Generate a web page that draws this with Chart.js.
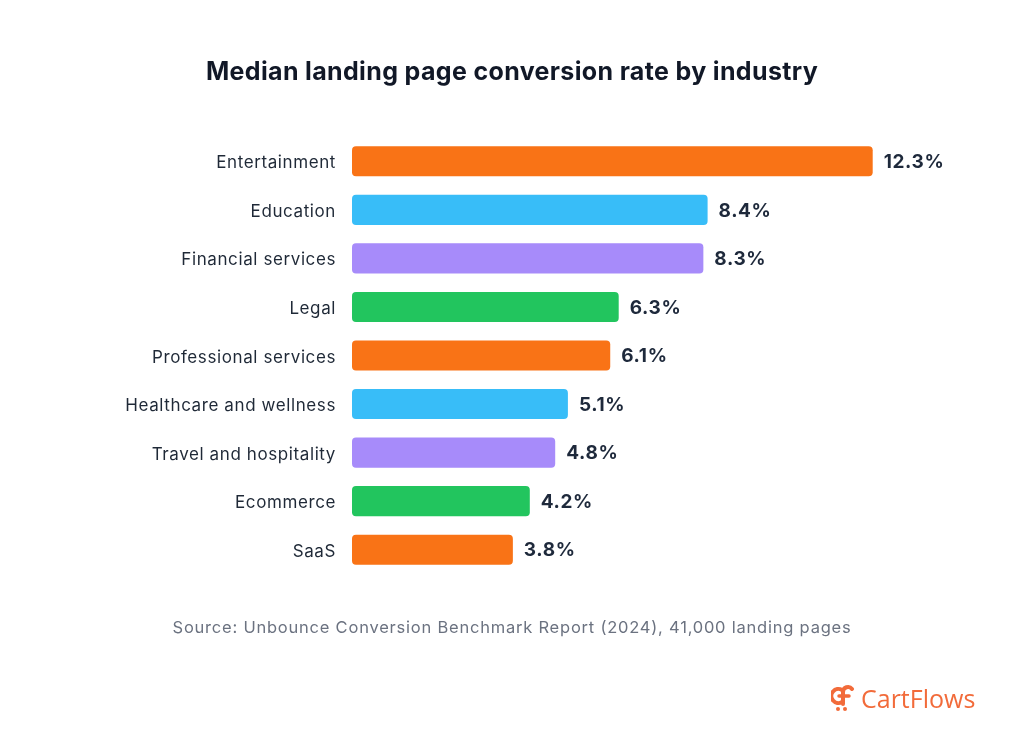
<!DOCTYPE html>
<html>
<head>
<meta charset="utf-8">
<script src="https://cdn.jsdelivr.net/npm/chart.js@4.4.1/dist/chart.umd.min.js"></script>
<style>
  html, body { margin: 0; padding: 0; background: #fff; }
  #wrap { position: relative; width: 1024px; height: 737px; font-family: Inter, "Noto Sans", sans-serif; }
  #chart { position: absolute; left: 0; top: 0; }
  .title { position: absolute; top: 56px; left: 0; width: 1024px; text-align: center; font-weight: 700; font-size: 25px; letter-spacing: 0.35px; color: #111827; }
  .source { position: absolute; top: 617px; left: 0; width: 1024px; text-align: center; font-size: 16.5px; letter-spacing: 0.78px; color: #6b7280; }
  .logo { position: absolute; left: 831px; top: 681px; display: flex; align-items: center; color: #f26b3a; font-size: 25px; font-family: "Open Sans", Inter, sans-serif; }
  .logo svg { margin-right: 6px; }
</style>
</head>
<body>
<div id="wrap">
  <canvas id="chart" width="1024" height="737"></canvas>
  <div class="title">Median landing page conversion rate by industry</div>
  <div class="source">Source: Unbounce Conversion Benchmark Report (2024), 41,000 landing pages</div>
  <div class="logo">
    <svg width="24" height="28" viewBox="0 0 24 28">
      <path d="M11 6 A7 7 0 1 0 11 18" fill="none" stroke="#f26b3a" stroke-width="4" stroke-linecap="round"/>
      <path d="M12 20 V8 A5 5 0 0 1 21 5" fill="none" stroke="#f26b3a" stroke-width="4" stroke-linecap="round"/>
      <path d="M8 12 H18" stroke="#f26b3a" stroke-width="3.5" stroke-linecap="round"/>
      <circle cx="7" cy="25" r="2" fill="#f26b3a"/>
      <circle cx="14" cy="25" r="2" fill="#f26b3a"/>
    </svg>
    <span>CartFlows</span>
  </div>
</div>
<script>
const industries = [
  "Entertainment", "Education", "Financial services", "Legal",
  "Professional services", "Healthcare and wellness", "Travel and hospitality",
  "Ecommerce", "SaaS"
];
const conversionRates = [12.3, 8.4, 8.3, 6.3, 6.1, 5.1, 4.8, 4.2, 3.8];
const barColors = [
  "#f97316", "#38bdf8", "#a78bfa", "#22c55e",
  "#f97316", "#38bdf8", "#a78bfa", "#22c55e", "#f97316"
];

// wider tracking for the canvas text, closer to the original font
const tracking = {
  id: "tracking",
  beforeDraw(chart) { chart.ctx.letterSpacing = "0.6px"; }
};

const valueLabels = {
  id: "valueLabels",
  afterDatasetsDraw(chart) {
    const ctx = chart.ctx;
    const meta = chart.getDatasetMeta(0);
    ctx.save();
    ctx.letterSpacing = "0.6px";
    ctx.font = "700 19px Inter, 'Noto Sans', sans-serif";
    ctx.fillStyle = "#1e293b";
    ctx.textBaseline = "middle";
    ctx.textAlign = "left";
    meta.data.forEach((bar, i) => {
      ctx.fillText(conversionRates[i].toFixed(1) + "%", bar.x + 11, bar.y + 1);
    });
    ctx.restore();
  }
};

const chartCanvas = document.getElementById("chart");
new Chart(chartCanvas.getContext("2d"), {
  type: "bar",
  data: {
    labels: industries,
    datasets: [{
      data: conversionRates,
      backgroundColor: barColors,
      borderRadius: 4,
      borderSkipped: false,
      barPercentage: 0.62,
      categoryPercentage: 1.0,
    }]
  },
  options: {
    indexAxis: "y",
    responsive: false,
    animation: false,
    layout: { padding: { top: 137, bottom: 163, left: 0, right: 37 } },
    plugins: {
      legend: { display: false },
      tooltip: { enabled: false },
    },
    scales: {
      x: { display: false, min: 0, max: 15 },
      y: {
        grid: { display: false, drawTicks: false },
        border: { display: false },
        ticks: {
          padding: 16,
          labelOffset: 2,
          color: "#1f2937",
          font: { family: "Inter, 'Noto Sans', sans-serif", size: 17 },
        },
        afterFit(scale) { scale.width = 352; },
      },
    },
  },
  plugins: [tracking, valueLabels],
});
</script>
</body>
</html>
